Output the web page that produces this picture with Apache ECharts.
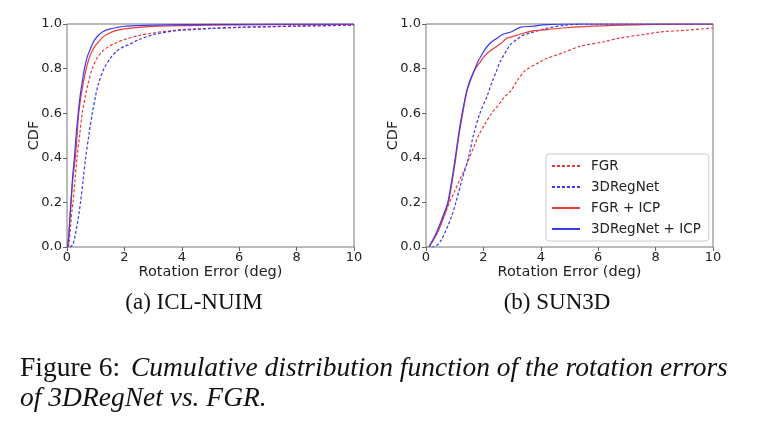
<!DOCTYPE html>
<html><head><meta charset="utf-8">
<script src="https://cdn.jsdelivr.net/npm/echarts@6/dist/echarts.min.js"></script>
<style>html,body{margin:0;padding:0;background:#fff}#c{width:778px;height:430px}</style>
</head><body><div id="c"></div>
<script>
// ICL-NUIM panel: [rotation error (deg), CDF]
const iclFgr = [[0.05,0],[0.08,0.025],[0.13,0.1],[0.17,0.16],[0.21,0.2],[0.28,0.3],[0.35,0.4],[0.44,0.5],[0.53,0.6],[0.63,0.67],[0.73,0.73],[0.88,0.8],[1.06,0.85],[1.25,0.88],[1.47,0.9],[1.7,0.915],[2.0,0.93],[2.5,0.948],[3,0.96],[3.5,0.968],[4,0.975],[5,0.98],[6,0.985],[7,0.988],[8,0.991],[10,0.995]];
const iclReg = [[0.1,0],[0.2,0.01],[0.29,0.055],[0.38,0.12],[0.47,0.2],[0.56,0.3],[0.65,0.4],[0.76,0.5],[0.88,0.6],[1.0,0.68],[1.09,0.73],[1.29,0.8],[1.53,0.85],[1.75,0.88],[2.0,0.9],[2.15,0.907],[2.5,0.93],[3,0.952],[3.3,0.96],[3.8,0.97],[4.5,0.976],[5,0.98],[6,0.985],[8,0.99],[10,0.995]];
const iclFgrIcp = [[0.02,0],[0.06,0.04],[0.1,0.12],[0.15,0.21],[0.2,0.3],[0.29,0.4],[0.35,0.5],[0.41,0.6],[0.48,0.67],[0.56,0.73],[0.67,0.8],[0.77,0.845],[0.88,0.88],[1.0,0.905],[1.1,0.92],[1.24,0.94],[1.45,0.957],[1.7,0.97],[2.0,0.978],[2.5,0.985],[3,0.989],[4,0.993],[5,0.995],[7,0.997],[10,0.998]];
const iclRegIcp = [[0.02,0],[0.06,0.05],[0.1,0.13],[0.15,0.23],[0.2,0.32],[0.27,0.42],[0.33,0.52],[0.39,0.6],[0.46,0.68],[0.53,0.74],[0.61,0.8],[0.7,0.85],[0.79,0.88],[0.9,0.915],[1.06,0.945],[1.25,0.965],[1.47,0.977],[1.75,0.985],[2.0,0.99],[2.5,0.993],[3,0.995],[4,0.997],[5,0.998],[7,0.999],[10,1.0]];

// SUN3D panel
const sunFgr = [[0.1,0],[0.15,0.01],[0.38,0.06],[0.6,0.13],[0.82,0.2],[1.0,0.25],[1.17,0.3],[1.35,0.35],[1.51,0.4],[1.67,0.45],[1.83,0.5],[2.05,0.55],[2.29,0.6],[2.55,0.64],[2.7,0.668],[2.95,0.7],[3.2,0.75],[3.45,0.79],[3.97,0.83],[4.2,0.845],[4.79,0.872],[5.37,0.9],[6.18,0.92],[6.76,0.937],[7.68,0.955],[8.2,0.965],[8.84,0.97],[10,0.982]];
const sunReg = [[0.2,0],[0.27,0],[0.5,0.025],[0.73,0.085],[0.9,0.14],[1.04,0.2],[1.25,0.3],[1.48,0.4],[1.65,0.5],[1.88,0.6],[2.14,0.68],[2.3,0.74],[2.46,0.79],[2.58,0.83],[2.87,0.895],[2.93,0.907],[3.16,0.93],[3.39,0.95],[3.63,0.96],[4.2,0.98],[4.79,0.994],[5.5,1.0],[10,1.0]];
const sunFgrIcp = [[0.1,0],[0.15,0.01],[0.38,0.06],[0.61,0.13],[0.78,0.2],[0.92,0.3],[1.04,0.4],[1.15,0.5],[1.28,0.6],[1.43,0.7],[1.56,0.75],[1.72,0.8],[1.89,0.83],[2.0,0.85],[2.24,0.88],[2.58,0.91],[2.82,0.937],[2.92,0.94],[3.3,0.955],[3.63,0.967],[4.2,0.975],[4.79,0.982],[5.5,0.988],[6.5,0.994],[8,0.998],[10,1.0]];
const sunRegIcp = [[0.1,0],[0.15,0.01],[0.38,0.07],[0.61,0.145],[0.76,0.2],[0.9,0.3],[1.02,0.4],[1.13,0.5],[1.26,0.6],[1.42,0.7],[1.54,0.75],[1.71,0.8],[1.8,0.83],[1.89,0.85],[2.05,0.885],[2.24,0.915],[2.4,0.93],[2.7,0.955],[2.98,0.965],[3.28,0.985],[3.7,0.99],[4.2,0.997],[5,1.0],[10,1.0]];

const seriesNames = ['FGR','3DRegNet','FGR + ICP','3DRegNet + ICP'];
const xTicks = [0,2,4,6,8,10];
const yTicks = [0.0,0.2,0.4,0.6,0.8,1.0];
const panelCaptions = ['(a) ICL-NUIM','(b) SUN3D'];
const figLabel = 'Figure 6:';
const figText1 = 'Cumulative distribution function of the rotation errors';
const figText2 = 'of 3DRegNet vs. FGR.';

const RED = '#f03a3a', BLUE = '#3a3af0';
const styles = [
  {color: RED, type: [3,2]},
  {color: BLUE, type: [3,2]},
  {color: RED, type: 'solid'},
  {color: BLUE, type: 'solid'}
];
const panels = [[iclFgr, iclReg, iclFgrIcp, iclRegIcp],[sunFgr, sunReg, sunFgrIcp, sunRegIcp]];

const axisText = {fontFamily: 'DejaVu Sans', fontSize: 13, color: '#222'};
function xAx(i){return {type:'value', gridIndex:i, min:xTicks[0], max:xTicks[xTicks.length-1], interval:2,
  name:'Rotation Error (deg)', nameLocation:'middle', nameGap:18, nameMoveOverlap:false,
  nameTextStyle:{fontFamily:'DejaVu Sans', fontSize:14.5, color:'#222'},
  axisLine:{show:false}, axisTick:{show:true, length:4, lineStyle:{color:'#666'}},
  axisLabel:Object.assign({margin:4}, axisText), splitLine:{show:false}};}
function yAx(i){return {type:'value', gridIndex:i, min:yTicks[0], max:yTicks[yTicks.length-1], interval:0.2,
  name:'CDF', nameLocation:'middle', nameGap:25, nameMoveOverlap:false,
  nameTextStyle:{fontFamily:'DejaVu Sans', fontSize:14.5, color:'#222'},
  axisLine:{show:false}, axisTick:{show:true, length:4, lineStyle:{color:'#666'}},
  axisLabel:Object.assign({margin:5, formatter:v=>v.toFixed(1)}, axisText), splitLine:{show:false}};}

const series = [];
panels.forEach((p,pi)=>{
  p.forEach((d,si)=>{
    series.push({name:seriesNames[si], type:'line', xAxisIndex:pi, yAxisIndex:pi, data:d,
      showSymbol:false, symbol:'none', smooth:0.3, animation:false,
      lineStyle:{color:styles[si].color, type:styles[si].type, width:1.2},
      itemStyle:{color:styles[si].color}, z: si<2?2:3});
  });
});

const chart = echarts.init(document.getElementById('c'), null, {renderer:'canvas'});
chart.setOption({
  backgroundColor:'#fff',
  animation:false,
  grid:[
    {left:67, right:424, top:24, bottom:183, show:true, borderColor:'#777', borderWidth:1, backgroundColor:'transparent'},
    {left:426, right:65, top:24, bottom:183, show:true, borderColor:'#777', borderWidth:1, backgroundColor:'transparent'}
  ],
  xAxis:[xAx(0), xAx(1)],
  yAxis:[yAx(0), yAx(1)],
  legend:{data:seriesNames, orient:'vertical', left:546, top:154,
    padding:[5,8,5,5], itemGap:7, itemWidth:28, itemHeight:12,
    itemStyle:{opacity:0},
    backgroundColor:'rgba(255,255,255,0.85)', borderColor:'#ccc', borderWidth:1, borderRadius:3,
    textStyle:{fontFamily:'DejaVu Sans', fontSize:13.5, color:'#222', padding:[0,0,0,6]}, selectedMode:false},
  series:series,
  graphic:[
    {type:'text', x:194, y:303, style:{text:panelCaptions[0], font:'23px "Liberation Serif"', fill:'#111', align:'center', verticalAlign:'middle'}},
    {type:'text', x:557, y:303, style:{text:panelCaptions[1], font:'23px "Liberation Serif"', fill:'#111', align:'center', verticalAlign:'middle'}},
    {type:'text', x:20, y:369, style:{text:'{n|'+figLabel+'\u00a0}{i|'+figText1+'}', verticalAlign:'middle', fill:'#111',
      rich:{n:{fontFamily:'Liberation Serif', fontSize:27.5, fill:'#111', padding:[0,4,0,0]}, i:{fontFamily:'Liberation Serif', fontSize:27.5, fontStyle:'italic', fill:'#111'}}}},
    {type:'text', x:20, y:399, style:{text:figText2, font:'italic 27.5px "Liberation Serif"', fill:'#111', verticalAlign:'middle'}}
  ]
});
</script></body></html>
